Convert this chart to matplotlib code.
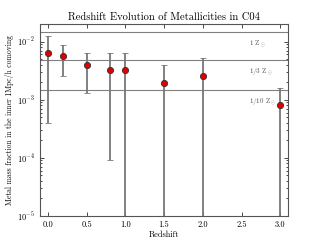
import matplotlib
matplotlib.use("Agg")
import matplotlib.pyplot as plt
import numpy as np

plt.rcParams['font.family'] = 'serif'
plt.rcParams['font.serif'] = ['cmr10', 'DejaVu Serif']
plt.rcParams['mathtext.fontset'] = 'cm'
plt.rcParams['axes.formatter.use_mathtext'] = True
plt.rcParams['axes.unicode_minus'] = False

redshift = [0.0, 0.2, 0.5, 0.8, 1.0, 1.5, 2.0, 3.0]
metallicity = [6.3e-3, 5.7e-3, 3.9e-3, 3.3e-3, 3.2e-3, 1.93e-3, 2.58e-3, 8.0e-4]
err_lower = [5.9e-3, 3.15e-3, 2.6e-3, 3.21e-3, 3.2e-3, 1.93e-3, 2.58e-3, 8.0e-4]
err_upper = [6.2e-3, 3.1e-3, 2.4e-3, 3.0e-3, 3.1e-3, 2.0e-3, 2.6e-3, 7.9e-4]
z_sun = 0.0146
ref_fracs = [1.0, 1/3, 1/10]
ref_labels = [r'1 Z$_\odot$', r'1/3 Z$_\odot$', r'1/10 Z$_\odot$']

fig = plt.figure(figsize=(3.2, 2.4), dpi=100)
ax = fig.add_axes([40/320, 1-216/240, 248/320, 192/240])

for f, lab in zip(ref_fracs, ref_labels):
    ax.axhline(f * z_sun, color='#808080', lw=0.8, zorder=1)
    ax.text(2.6, f * z_sun * 0.78, lab, fontsize=5, color='#555555', va='top', ha='left')

lo = np.array(err_lower)
up = np.array(err_upper)
ax.errorbar(redshift, metallicity, yerr=[lo, up], fmt='o', color='#777777',
            ecolor='#777777', elinewidth=1.3, capsize=2, capthick=1.0,
            markerfacecolor='#dd0000', markeredgecolor='#333333',
            markeredgewidth=0.6, markersize=4.5, zorder=3)

ax.set_yscale('log', nonpositive='clip')
ax.set_ylim(1e-5, 2e-2)
ax.set_xlim(-0.1, 3.1)
ax.set_xticks([0.0, 0.5, 1.0, 1.5, 2.0, 2.5, 3.0])
ax.set_xticklabels(['0.0', '0.5', '1.0', '1.5', '2.0', '2.5', '3.0'])
ax.tick_params(which='both', direction='in', top=True, right=True, labelsize=6, width=0.5)
ax.tick_params(which='major', length=3)
ax.tick_params(which='minor', length=1.5)
for s in ax.spines.values():
    s.set_linewidth(0.8)
    s.set_color('#555555')

ax.set_title('Redshift Evolution of Metallicities in C04', fontsize=7.6, pad=3)
ax.set_xlabel('Redshift', fontsize=6, labelpad=1)
ax.set_ylabel('Metal mass fraction in the inner 1Mpc/h comoving', fontsize=5.5, labelpad=2)

fig.savefig('out.png', dpi=100)
